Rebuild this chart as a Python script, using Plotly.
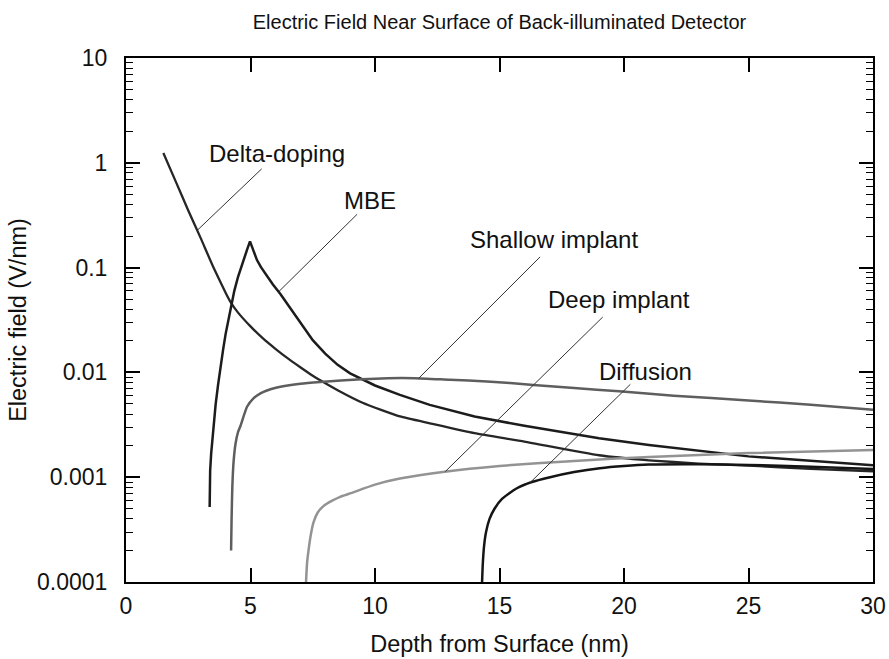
import numpy as np
import plotly.graph_objects as go

# Electric field profiles (V/nm) versus depth (nm) for five surface treatments
delta_x = [1.5, 2.0, 2.5, 3.0, 3.5, 4.0, 4.2, 4.5, 5.0, 5.5, 6.0, 6.5, 7.0, 7.5, 7.8,
           8.5, 9.5, 11.0, 12.2, 14.0, 16.0, 19.0, 21.0, 23.0, 25.0, 27.5, 30.0]
delta_y = [1.24, 0.661, 0.351, 0.191, 0.102, 0.0575, 0.0468, 0.0372, 0.0275, 0.0211,
           0.0168, 0.0136, 0.0112, 0.0093, 0.0084, 0.00676, 0.00513, 0.0038, 0.00327,
           0.00263, 0.00219, 0.00162, 0.00145, 0.00135, 0.00129, 0.0012, 0.00114]

mbe_x = [3.36, 3.38, 3.42, 3.5, 3.6, 3.7, 3.8, 3.9, 4.0, 4.1, 4.21, 4.35, 4.5, 4.62,
         4.75, 4.87, 4.98, 5.1, 5.26, 5.42, 5.6, 5.9, 6.2, 6.6, 7.0, 7.5, 8.0, 8.5, 9.0,
         9.45, 10.0, 11.0, 12.2, 14.0, 16.0, 19.0, 21.0, 25.0, 30.0]
mbe_y = [0.00052, 0.00116, 0.00168, 0.00292, 0.00495, 0.0077, 0.0116, 0.0165, 0.0232,
         0.031, 0.0425, 0.06, 0.0817, 0.101, 0.126, 0.15, 0.178, 0.151, 0.118, 0.101,
         0.087, 0.069, 0.056, 0.0413, 0.0299, 0.0203, 0.0151, 0.0118, 0.0098, 0.0087,
         0.0075, 0.0061, 0.0049, 0.0038, 0.00309, 0.00235, 0.00203, 0.00158, 0.0013]

shallow_x = [4.22, 4.24, 4.27, 4.32, 4.4, 4.5, 4.6, 4.86, 5.1, 5.4, 5.8, 6.2, 7.0, 7.8,
             9.45, 10.5, 11.6, 13.0, 14.5, 16.36, 18.0, 19.8, 22.0, 25.0, 27.5, 30.0]
shallow_y = [0.0002, 0.0004, 0.0008, 0.0014, 0.0021, 0.0027, 0.0031, 0.0047, 0.0056,
             0.0063, 0.0069, 0.0073, 0.0078, 0.0081, 0.0086, 0.0088, 0.0088, 0.0085,
             0.0082, 0.0076, 0.0071, 0.0066, 0.006, 0.0054, 0.0049, 0.0044]

deep_x = [7.23, 7.27, 7.33, 7.42, 7.53, 7.7, 7.93, 8.3, 8.6, 9.0, 10.0, 11.0, 12.8,
          15.0, 18.0, 21.0, 25.0, 30.0]
deep_y = [0.0001, 0.00015, 0.0002, 0.00028, 0.00037, 0.00046, 0.00053, 0.0006, 0.00065,
          0.0007, 0.00085, 0.00097, 0.00113, 0.00128, 0.00143, 0.00156, 0.0017, 0.00182]

diff_x = [14.3, 14.33, 14.38, 14.46, 14.6, 14.8, 15.1, 15.68, 16.3, 17.03, 18.0, 19.03,
          20.0, 21.0, 23.0, 25.0, 27.5, 30.0]
diff_y = [0.0001, 0.00015, 0.00022, 0.0003, 0.0004, 0.0005, 0.00062, 0.00078, 0.0009,
          0.001, 0.00112, 0.00122, 0.00128, 0.00132, 0.00133, 0.00131, 0.00126, 0.0012]

# name, depths, fields, colour, width, smoothed (the MBE peak is a sharp cusp)
series = [
    ("Delta-doping", delta_x, delta_y, "#262626", 2.3, True),
    ("MBE", mbe_x, mbe_y, "#1c1c1c", 2.5, False),
    ("Shallow implant", shallow_x, shallow_y, "#5e5e5e", 2.5, True),
    ("Deep implant", deep_x, deep_y, "#939393", 2.5, True),
    ("Diffusion", diff_x, diff_y, "#151515", 2.5, True),
]

y_ticks = [1e-4, 1e-3, 1e-2, 1e-1, 1, 10]
y_tick_text = ["0.0001", "0.001", "0.01", "0.1", "1", "10"]
x_ticks = [0, 5, 10, 15, 20, 25, 30]
y_minor = [m * 10.0 ** e for e in range(-4, 1) for m in range(2, 10)]

# label placement: depth where the leader touches the curve,
# leader end offset (ax, ay) and text offset (dx, dy) in pixels
labels = {
    "Delta-doping": dict(px=2.86, ax=66, ay=-63, dx=80, dy=77),
    "MBE": dict(px=6.13, ax=80, ay=-79, dx=91, dy=91),
    "Shallow implant": dict(px=11.75, ax=123, ay=-123, dx=135, dy=139),
    "Deep implant": dict(px=12.82, ax=159, ay=-156, dx=174, dy=172),
    "Diffusion": dict(px=16.22, ax=102, ay=-100, dx=116, dy=111),
}

FONT = "Liberation Sans, Arial, Helvetica, sans-serif"


def point_on_curve(xs, ys, xp):
    # log10 of the curve value at depth xp (falling or flat part of the curve)
    i = max(k for k in range(len(xs)) if xs[k] <= xp)
    j = min(i + 1, len(xs) - 1)
    if j == i:
        return float(np.log10(ys[i]))
    t = (xp - xs[i]) / (xs[j] - xs[i])
    return float((1 - t) * np.log10(ys[i]) + t * np.log10(ys[j]))


fig = go.Figure()
annotations = []
for name, xs, ys, color, width, smooth in series:
    line = dict(color=color, width=width)
    if smooth:
        line.update(shape="spline", smoothing=0.5)
    fig.add_trace(go.Scatter(x=xs, y=ys, mode="lines", name=name,
                             line=line, showlegend=False))
    lab = labels[name]
    ly = point_on_curve(xs, ys, lab["px"])
    annotations.append(dict(x=lab["px"], y=ly, xref="x", yref="y", text="",
                            showarrow=True, arrowhead=0, arrowwidth=1,
                            arrowcolor="#333333", ax=lab["ax"], ay=lab["ay"],
                            standoff=0, startstandoff=0))
    annotations.append(dict(x=lab["px"], y=ly, xref="x", yref="y", text=name,
                            showarrow=False, xshift=lab["dx"], yshift=lab["dy"],
                            font=dict(family=FONT, size=24, color="#111111")))

fig.update_layout(
    width=889, height=659,
    margin=dict(l=126, r=16, t=58, b=77, autoexpand=False),
    paper_bgcolor="white", plot_bgcolor="white",
    font=dict(family=FONT, color="#111111"),
    title=dict(text="Electric Field Near Surface of Back-illuminated Detector",
               x=0.5, xref="paper", y=1 - 22 / 659, yref="container",
               yanchor="middle", font=dict(size=20, family=FONT, color="#111111")),
    annotations=annotations,
)

fig.update_xaxes(
    range=[0, 30], tickmode="array", tickvals=x_ticks,
    ticks="inside", ticklen=14, tickwidth=1.5, tickcolor="black",
    showline=True, linecolor="black", linewidth=2, mirror="ticks",
    showgrid=False, zeroline=False, automargin=False,
    tickfont=dict(size=23, family=FONT, color="#111111"),
    ticklabelstandoff=2,
    title=dict(text="Depth from Surface (nm)", standoff=18,
               font=dict(size=23.5, family=FONT, color="#111111")),
)
fig.update_yaxes(
    type="log", range=[-4, 1], tickmode="array", tickvals=y_ticks, ticktext=y_tick_text,
    ticks="inside", ticklen=14, tickwidth=1.5, tickcolor="black",
    minor=dict(tickmode="array", tickvals=y_minor, ticks="inside", ticklen=7,
               tickwidth=1.2, tickcolor="black", showgrid=False),
    showline=True, linecolor="black", linewidth=2, mirror="ticks",
    showgrid=False, zeroline=False, automargin=False,
    tickfont=dict(size=23, family=FONT, color="#111111"),
    ticklabelstandoff=12,
    title=dict(text="Electric field (V/nm)", standoff=4,
               font=dict(size=23.5, family=FONT, color="#111111")),
)

fig.write_html("out.html")
